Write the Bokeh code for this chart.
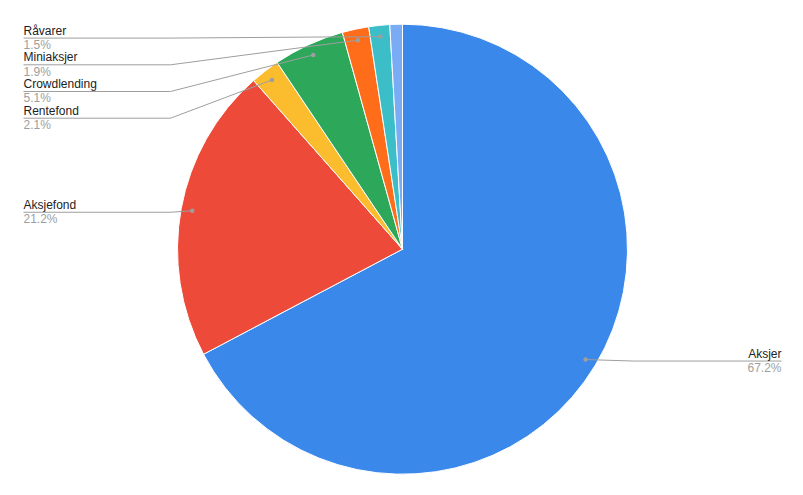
import math
from bokeh.plotting import figure
from bokeh.models import Range1d, ColumnDataSource
from bokeh.core.properties import value
from bokeh.embed import file_html
from bokeh.resources import INLINE

# ---- data ----
categories = ["Aksjer", "Aksjefond", "Rentefond", "Crowdlending", "Miniaksjer", "Råvarer", ""]
shares = [67.2, 21.2, 2.1, 5.1, 1.9, 1.5, 0.9]
pct_labels = ["67.2%", "21.2%", "2.1%", "5.1%", "1.9%", "1.5%", ""]
colors = ["#3b88eb", "#ee4a3a", "#fbbc2e", "#2da85a", "#ff6d1b", "#3bbec8", "#7aabf5"]

# ---- layout (page pixels; data y = 495 - page y) ----
W, H = 787, 479
CX, CY_PAGE, R = 402, 248.7, 225
DOT_R = 0.95 * R
LEFT_TEXT_X, LEFT_ELBOW_X = 23, 170
RIGHT_TEXT_X, RIGHT_ELBOW_X = 781, 633
SPACING = 26.7
OFF = 0  # page offset of the figure

def dy(page_y):
    return 495 - page_y

p = figure(width=W, height=H, output_backend="svg", toolbar_location=None,
           x_range=Range1d(OFF, OFF + W), y_range=Range1d(495 - OFF - H, 495 - OFF),
           min_border=0)
p.axis.visible = False
p.grid.visible = False
p.outline_line_color = None
p.background_fill_color = "white"
p.border_fill_color = "white"

total = sum(shares)
starts, ends, mids = [], [], []
cum = 0.0
for v in shares:
    f0 = cum / total
    cum += v
    f1 = cum / total
    starts.append(math.pi / 2 - 2 * math.pi * f0)
    ends.append(math.pi / 2 - 2 * math.pi * f1)
    mids.append(math.pi / 2 - 2 * math.pi * (f0 + f1) / 2)

src = ColumnDataSource(dict(start=starts, end=ends, color=colors))
p.wedge(x=CX, y=dy(CY_PAGE), radius=R, start_angle="start", end_angle="end",
        direction="clock", fill_color="color", line_color="white", line_width=1,
        source=src)

# label placement
items = []
for i, name in enumerate(categories):
    if not name:
        continue
    dx_ = DOT_R * math.cos(mids[i])
    dy_ = DOT_R * math.sin(mids[i])
    dot_x = CX + dx_
    dot_page_y = CY_PAGE - dy_
    items.append(dict(i=i, dot_x=dot_x, dot_py=dot_page_y, left=dx_ < 0))

for side in (True, False):
    group = sorted([it for it in items if it["left"] == side], key=lambda t: t["dot_py"])
    prev = -1e9
    for it in group:
        ly = max(it["dot_py"] + 1.5, prev + SPACING)
        it["line_py"] = ly
        prev = ly

line_color = "#9e9e9e"
for it in items:
    i = it["i"]
    ly = it["line_py"]
    if it["left"]:
        xs = [LEFT_TEXT_X, LEFT_ELBOW_X, it["dot_x"]]
        tx, align = LEFT_TEXT_X, "left"
    else:
        xs = [RIGHT_TEXT_X, RIGHT_ELBOW_X, it["dot_x"]]
        tx, align = RIGHT_TEXT_X, "right"
    ys = [dy(ly), dy(ly), dy(it["dot_py"])]
    p.line(xs, ys, line_color=line_color, line_width=1)
    p.scatter([it["dot_x"]], [dy(it["dot_py"])], size=4.5, fill_color=line_color,
              line_color=None)
    p.text([tx], [dy(ly - 7.5)], text=[categories[i]], text_align=align,
           text_baseline="middle", text_font=value("Liberation Sans"),
           text_font_size="12px", text_color="#222222")
    p.text([tx], [dy(ly + 7)], text=[pct_labels[i]], text_align=align,
           text_baseline="middle", text_font=value("Liberation Sans"),
           text_font_size="12px", text_color="#9e9e9e")

open("out.html", "w").write(file_html(p, INLINE))
